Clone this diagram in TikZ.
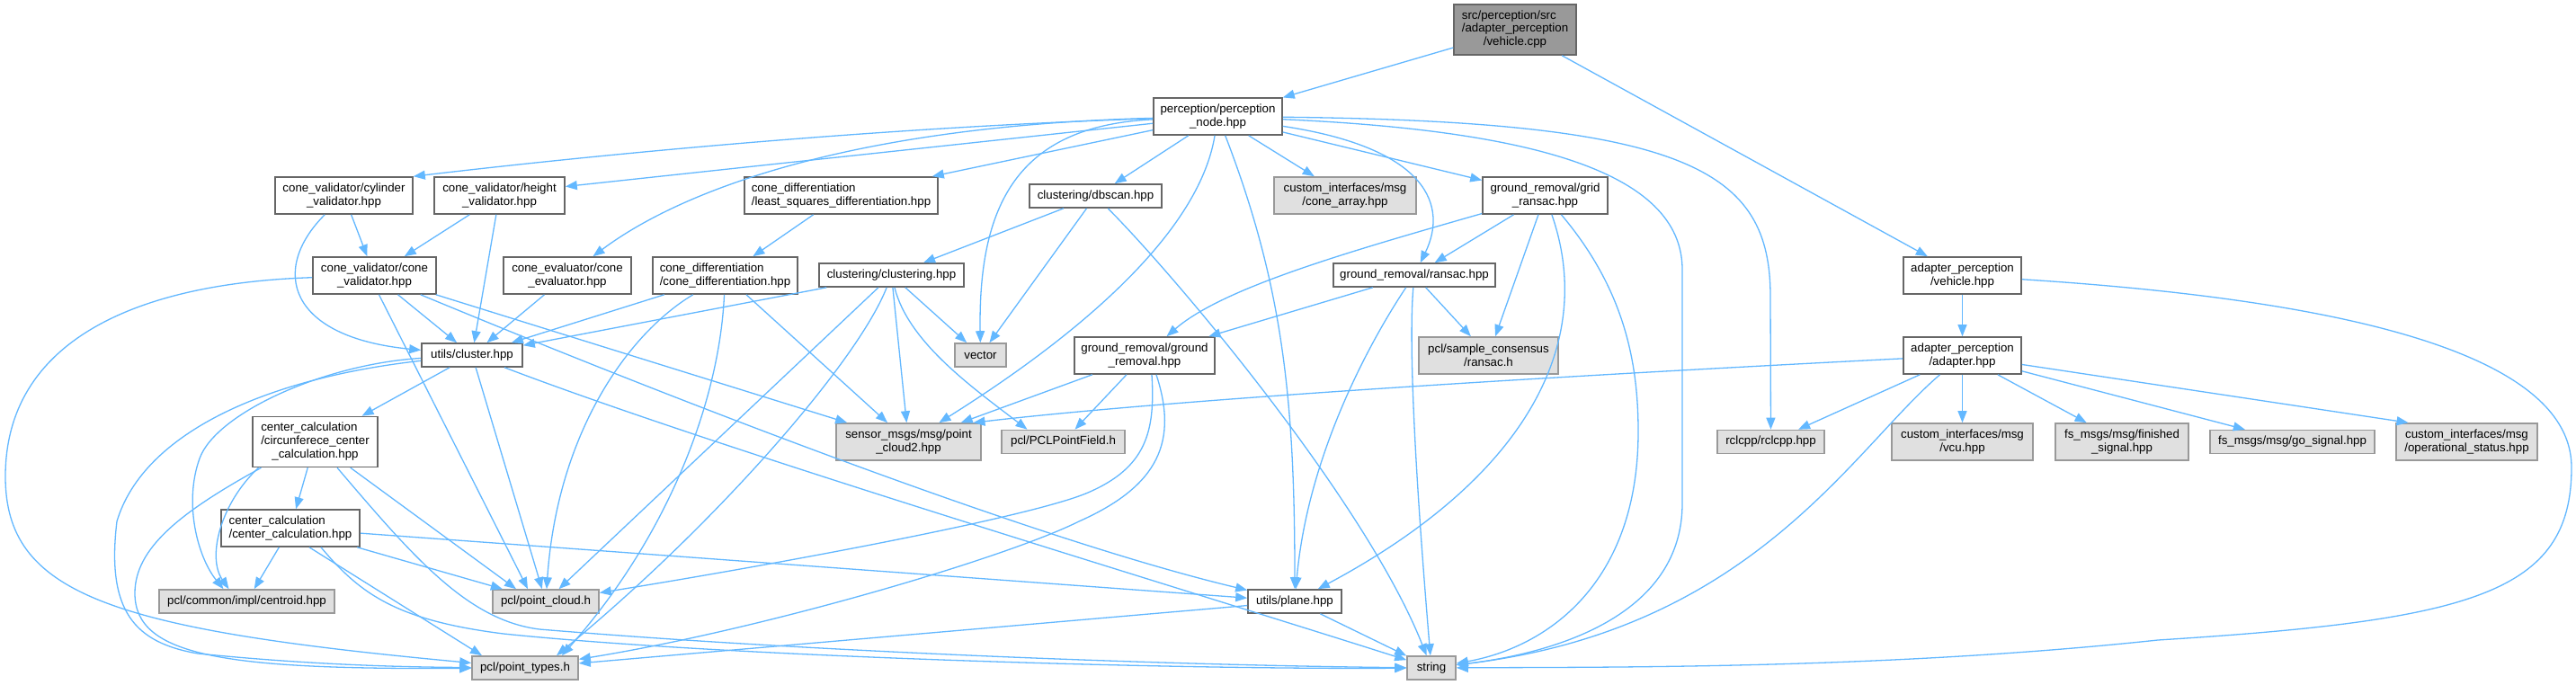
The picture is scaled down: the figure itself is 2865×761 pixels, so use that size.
\documentclass[tikz,border=0pt]{standalone}
\usepackage{fontspec}
\setmainfont{Liberation Sans}
\usetikzlibrary{arrows.meta}
\definecolor{edgecol}{HTML}{63B8FF}
\definecolor{nborder}{HTML}{666666}
\definecolor{gfill}{HTML}{E0E0E0}
\definecolor{gborder}{HTML}{999999}
\definecolor{rfill}{HTML}{999999}
\tikzset{
  nbase/.style={rectangle, inner sep=0pt, line width=1.6pt, align=center, font=\fontsize{13.3}{14.8}\selectfont},
  wn/.style={nbase, draw=nborder, fill=white},
  gn/.style={nbase, draw=gborder, fill=gfill},
  rn/.style={nbase, draw=nborder, fill=rfill},
  sz/.style 2 args={minimum width=#1pt, minimum height=#2pt},
  dep/.style={draw=edgecol, line width=1.3pt, -{Triangle[length=13pt,width=10pt]}},
}
\begin{document}
\begin{tikzpicture}[x=1pt,y=-1pt]
\useasboundingbox (0,0) rectangle (2865,761);
\fill[white] (0,0) rectangle (2865,761);

% ---------- nodes ----------
\node[rn, sz={136}{56}] (vcpp) at (1685,33) {\begin{tabular}{@{}l@{}}src/perception/src\\/adapter\_perception\\\multicolumn{1}{@{}c@{}}{/vehicle.cpp}\end{tabular}};
\node[wn, sz={143}{41}] (pnode) at (1354.5,129.5) {perception/perception\\\_node.hpp};
\node[wn, sz={153}{41}] (cyl) at (382.5,217.5) {cone\_validator/cylinder\\\_validator.hpp};
\node[wn, sz={145}{41}] (hgt) at (555.5,217.5) {cone\_validator/height\\\_validator.hpp};
\node[wn, sz={215}{41}, align=left] (lsq) at (935.5,217.5) {cone\_differentiation\\/least\_squares\_differentiation.hpp};
\node[wn, sz={147}{26}] (dbscan) at (1218.5,218) {clustering/dbscan.hpp};
\node[gn, sz={158}{41}] (conearr) at (1496,217.5) {custom\_interfaces/msg\\/cone\_array.hpp};
\node[wn, sz={139}{41}] (grid) at (1718.5,217.5) {ground\_removal/grid\\\_ransac.hpp};
\node[wn, sz={137}{41}] (cval) at (416.5,306.5) {cone\_validator/cone\\\_validator.hpp};
\node[wn, sz={142}{41}] (ceval) at (631,306.5) {cone\_evaluator/cone\\\_evaluator.hpp};
\node[wn, sz={161}{41}, align=left] (cdiff) at (806.5,306.5) {cone\_differentiation\\/cone\_differentiation.hpp};
\node[wn, sz={161}{26}] (clust) at (991.5,306) {clustering/clustering.hpp};
\node[wn, sz={180}{26}] (ransac) at (1573,306) {ground\_removal/ransac.hpp};
\node[wn, sz={131}{41}] (vhpp) at (2182.5,306.5) {adapter\_perception\\/vehicle.hpp};
\node[wn, sz={112}{26}] (cluster) at (525,395) {utils/cluster.hpp};
\node[gn, sz={57}{26}] (vector) at (1090.5,395) {vector};
\node[wn, sz={156}{41}] (gr) at (1273,395.5) {ground\_removal/ground\\\_removal.hpp};
\node[gn, sz={155}{41}] (sac) at (1655.5,395.5) {pcl/sample\_consensus\\/ransac.h};
\node[wn, sz={131}{41}] (adapter) at (2182.5,395.5) {adapter\_perception\\/adapter.hpp};
\node[wn, sz={139}{56}] (circ) at (350.5,491.5) {\begin{tabular}{@{}l@{}}center\_calculation\\/circunferece\_center\\\multicolumn{1}{@{}c@{}}{\_calculation.hpp}\end{tabular}};
\node[gn, sz={161}{41}] (sensor) at (1010.5,491.5) {sensor\_msgs/msg/point\\\_cloud2.hpp};
\node[gn, sz={137}{26}] (pclpf) at (1182.5,491.5) {pcl/PCLPointField.h};
\node[gn, sz={119}{26}] (rclcpp) at (1969.5,491.5) {rclcpp/rclcpp.hpp};
\node[gn, sz={157}{41}] (vcu) at (2182.5,491.5) {custom\_interfaces/msg\\/vcu.hpp};
\node[gn, sz={148}{41}] (fin) at (2360,491.5) {fs\_msgs/msg/finished\\\_signal.hpp};
\node[gn, sz={183}{26}] (go) at (2549.5,491.5) {fs\_msgs/msg/go\_signal.hpp};
\node[gn, sz={157}{41}] (ops) at (2743.5,491.5) {custom\_interfaces/msg\\/operational\_status.hpp};
\node[wn, sz={154}{41}, align=left] (ccalc) at (323,587.5) {center\_calculation\\/center\_calculation.hpp};
\node[gn, sz={195}{26}] (centroid) at (274.5,669) {pcl/common/impl/centroid.hpp};
\node[gn, sz={118}{26}] (pcloud) at (607,669) {pcl/point\_cloud.h};
\node[wn, sz={104}{26}] (plane) at (1440,669) {utils/plane.hpp};
\node[gn, sz={118}{26}] (ptypes) at (584,743) {pcl/point\_types.h};
\node[gn, sz={54}{26}] (string) at (1592,743) {string};

% ---------- edges ----------
% root
\draw[dep] (vcpp) -- (pnode);
\draw[dep] (vcpp) -- (vhpp);
% perception node
\draw[dep] (pnode) .. controls (1000,141) and (700,168) .. (cyl.north east);
\draw[dep] (pnode) -- ([yshift=10pt]hgt.east);
\draw[dep] (pnode) .. controls (950,140) and (760,210) .. (ceval);
\draw[dep] (pnode) -- (lsq);
\draw[dep] (pnode) -- (dbscan);
\draw[dep] (pnode) -- (conearr);
\draw[dep] (pnode) -- (grid);
\draw[dep] (pnode) .. controls (1590,165) and (1610,230) .. (ransac);
\draw[dep] (pnode) .. controls (1130,140) and (1088,230) .. (vector);
\draw[dep] (pnode) .. controls (1335,250) and (1220,360) .. (sensor);
\draw[dep] (pnode) .. controls (1428,320) and (1440,450) .. (plane);
\draw[dep] (pnode) .. controls (1700,145) and (1871,190) .. (1871,300) -- (1871,560) .. controls (1871,680) and (1740,725) .. (string);
\draw[dep] (pnode) .. controls (1880,135) and (1969,190) .. (1969,330) -- (rclcpp);
% grid ransac
\draw[dep] (grid) -- (ransac);
\draw[dep] (grid) .. controls (1500,280) and (1360,320) .. (gr);
\draw[dep] (grid) -- (sac);
\draw[dep] (grid) .. controls (1775,380) and (1700,530) .. (plane);
\draw[dep] (grid) .. controls (1805,320) and (1822,400) .. (1822,480) .. controls (1822,650) and (1720,720) .. (string);
% ransac
\draw[dep] (ransac) -- (gr);
\draw[dep] (ransac) .. controls (1530,370) and (1455,500) .. (plane);
\draw[dep] (ransac) .. controls (1565,400) and (1580,600) .. (string);
\draw[dep] (ransac) -- (sac);
% dbscan
\draw[dep] (dbscan) -- (clust);
\draw[dep] (dbscan) -- (vector);
\draw[dep] (dbscan) .. controls (1310,310) and (1520,560) .. (string);
% least squares
\draw[dep] (lsq) -- (cdiff);
% cylinder / height
\draw[dep] (cyl) -- (cval);
\draw[dep] (cyl) .. controls (300,300) and (320,375) .. (cluster);
\draw[dep] (hgt) -- (cval);
\draw[dep] (hgt) -- (cluster);
% cone validator
\draw[dep] (cval) .. controls (150,315) and (6,380) .. (6,530) .. controls (6,660) and (120,700) .. (ptypes);
\draw[dep] ([xshift=5pt]cval.south) -- ([xshift=-20pt]pcloud.north);
\draw[dep] (cval) -- (cluster);
\draw[dep] (cval) .. controls (750,445) and (1150,600) .. (plane);
\draw[dep] (cval) -- (sensor);
% cone evaluator
\draw[dep] (ceval) -- (cluster);
% cone differentiation
\draw[dep] (cdiff) -- (cluster);
\draw[dep] (cdiff) .. controls (700,370) and (620,480) .. (pcloud);
\draw[dep] (cdiff) .. controls (800,450) and (740,600) .. ([xshift=41pt]ptypes.north);
\draw[dep] (cdiff) -- (sensor);
% clustering
\draw[dep] (clust) -- (cluster);
\draw[dep] (clust) -- (vector);
\draw[dep] (clust) -- (sensor);
\draw[dep] (clust) .. controls (1010,380) and (1080,430) .. ([xshift=-40pt]pclpf.north);
\draw[dep] (clust) -- (pcloud);
\draw[dep] (clust) .. controls (955,400) and (800,580) .. ([xshift=35pt]ptypes.north);
% utils cluster
\draw[dep] (cluster) -- (circ);
\draw[dep] (cluster) -- (pcloud);
\draw[dep] (cluster) .. controls (800,500) and (1300,650) .. (string);
\draw[dep] (cluster) .. controls (360,405) and (240,460) .. (222,510) .. controls (204,560) and (220,620) .. ([xshift=-26pt]centroid.north);
\draw[dep] (cluster) .. controls (300,420) and (160,480) .. (130,580) .. controls (118,680) and (150,715) .. (220,727) .. controls (350,740) and (450,742) .. (ptypes);
% circumference
\draw[dep] (circ) -- (ccalc);
\draw[dep] ([xshift=-63pt]circ.south) .. controls (245,560) and (230,620) .. ([xshift=-20pt]centroid.north);
\draw[dep] ([xshift=-60pt]circ.south) .. controls (200,570) and (150,610) .. (150,660) .. controls (150,730) and (250,745) .. (ptypes);
\draw[dep] (circ) -- ([xshift=-33pt]pcloud.north);
\draw[dep] (circ) .. controls (460,620) and (520,690) .. (600,700) .. controls (900,725) and (1300,740) .. (string);
% center calculation
\draw[dep] (ccalc) -- (centroid);
\draw[dep] (ccalc) -- (pcloud);
\draw[dep] ([xshift=21pt]ccalc.south) -- ([xshift=-48pt]ptypes.north);
\draw[dep] ([xshift=34pt]ccalc.south) .. controls (400,660) and (440,690) .. (560,705) .. controls (800,730) and (1300,745) .. (string);
\draw[dep] (ccalc) -- (plane);
% plane
\draw[dep] (plane) -- (ptypes);
\draw[dep] (plane) -- (string);
% ground removal
\draw[dep] (gr) -- (sensor);
\draw[dep] (gr) -- (pclpf);
\draw[dep] ([xshift=8pt]gr.south) .. controls (1285,480) and (1275,520) .. (1210,548) .. controls (1145,576) and (850,630) .. (pcloud);
\draw[dep] ([xshift=13pt]gr.south) .. controls (1310,490) and (1290,540) .. (1200,580) .. controls (1120,620) and (850,700) .. (ptypes);
% vehicle.hpp
\draw[dep] (vhpp) -- (adapter);
\draw[dep] (vhpp) .. controls (2550,330) and (2860,380) .. (2860,520) .. controls (2860,660) and (2750,690) .. (2400,712) .. controls (2100,744) and (1800,742) .. (string);
% adapter
\draw[dep] (adapter) .. controls (1700,420) and (1300,445) .. ([xshift=72pt]sensor.north);
\draw[dep] (adapter) -- (rclcpp);
\draw[dep] (adapter) .. controls (2060,500) and (1950,700) .. (string);
\draw[dep] (adapter) -- (vcu);
\draw[dep] (adapter) -- (fin);
\draw[dep] (adapter) -- (go);
\draw[dep] (adapter) -- ([xshift=-65pt]ops.north);
\end{tikzpicture}
\end{document}
